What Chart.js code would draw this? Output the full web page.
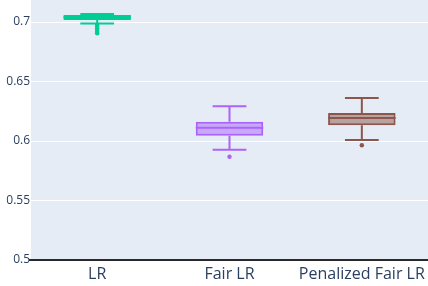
<!DOCTYPE html>
<html>
<head>
<meta charset="utf-8">
<script src="https://cdn.jsdelivr.net/npm/chart.js@4.4.0/dist/chart.umd.min.js"></script>
<style>
  html, body { margin: 0; padding: 0; background: #fff; }
  #wrap { width: 428px; height: 286px; }
</style>
</head>
<body>
<div id="wrap"><canvas id="chart" width="428" height="286"></canvas></div>
<script>
const categories = ['LR', 'Fair LR', 'Penalized Fair LR'];
const whiskerLow = [0.6987, 0.5927, 0.6008];
const q1Values = [0.7017, 0.6045, 0.6132];
const medianValues = [0.7040, 0.6112, 0.6194];
const q3Values = [0.7059, 0.6162, 0.6236];
const whiskerHigh = [0.7067, 0.6292, 0.6362];
const outliers = [
  [0.6977, 0.6962, 0.6948, 0.6933, 0.6918, 0.6906],
  [0.5868],
  [0.5964]
];
const yTicks = [0.5, 0.55, 0.6, 0.65, 0.7];

const LINE_COLORS = ['#00cc96', '#ab63fa', '#8c564b'];
const FILL_COLORS = ['rgba(0, 204, 150, 0.5)', 'rgba(171, 99, 250, 0.5)', 'rgba(140, 86, 75, 0.5)'];

// plot background like plotly
const plotBackground = {
  id: 'plotBackground',
  beforeDraw(chart) {
    const { ctx, chartArea } = chart;
    ctx.save();
    ctx.fillStyle = '#e5ecf6';
    ctx.fillRect(chartArea.left, chartArea.top, chartArea.right - chartArea.left, chartArea.bottom - chartArea.top);
    ctx.restore();
  }
};

// whiskers, caps and median lines drawn through the scales
const boxExtras = {
  id: 'boxExtras',
  afterDatasetsDraw(chart) {
    const { ctx } = chart;
    const x = chart.scales.x;
    const y = chart.scales.y;
    const meta = chart.getDatasetMeta(0);
    ctx.save();
    ctx.lineWidth = 2;
    categories.forEach((cat, i) => {
      const bar = meta.data[i];
      const cx = x.getPixelForValue(i);
      const half = bar.width / 2;
      const capHalf = half / 2;
      ctx.strokeStyle = LINE_COLORS[i];
      ctx.beginPath();
      // median
      const ym = y.getPixelForValue(medianValues[i]);
      ctx.moveTo(cx - half, ym); ctx.lineTo(cx + half, ym);
      // whiskers
      const yq3 = y.getPixelForValue(q3Values[i]);
      const yq1 = y.getPixelForValue(q1Values[i]);
      const yhi = y.getPixelForValue(whiskerHigh[i]);
      const ylo = y.getPixelForValue(whiskerLow[i]);
      ctx.moveTo(cx, yq3); ctx.lineTo(cx, yhi);
      ctx.moveTo(cx, yq1); ctx.lineTo(cx, ylo);
      // caps
      ctx.moveTo(cx - capHalf, yhi); ctx.lineTo(cx + capHalf, yhi);
      ctx.moveTo(cx - capHalf, ylo); ctx.lineTo(cx + capHalf, ylo);
      ctx.stroke();
    });
    // bottom axis line
    ctx.strokeStyle = '#2a2a2a';
    ctx.lineWidth = 2;
    const yb = y.getPixelForValue(0.5);
    ctx.beginPath();
    ctx.moveTo(chart.chartArea.left - 2, yb);
    ctx.lineTo(chart.chartArea.right, yb);
    ctx.stroke();
    ctx.restore();
  }
};

const outlierPoints = [];
const outlierColors = [];
outliers.forEach((list, i) => {
  list.forEach(v => {
    outlierPoints.push({ x: categories[i], y: v });
    outlierColors.push(LINE_COLORS[i]);
  });
});

new Chart(document.getElementById('chart'), {
  type: 'bar',
  data: {
    labels: categories,
    datasets: [
      {
        data: categories.map((c, i) => [q1Values[i], q3Values[i]]),
        backgroundColor: FILL_COLORS,
        borderColor: LINE_COLORS,
        borderWidth: 2,
        borderSkipped: false,
        barPercentage: 0.51,
        categoryPercentage: 1,
        order: 2
      },
      {
        type: 'scatter',
        data: outlierPoints,
        pointRadius: 2.2,
        pointBackgroundColor: outlierColors,
        pointBorderWidth: 0,
        order: 1
      }
    ]
  },
  options: {
    responsive: false,
    animation: false,
    layout: { padding: 0, autoPadding: false },
    plugins: { legend: { display: false }, tooltip: { enabled: false } },
    scales: {
      x: {
        type: 'category',
        offset: true,
        grid: { display: false },
        border: { display: false },
        ticks: {
          color: '#2a3f5f',
          font: { family: '"Open Sans", sans-serif', size: 16 },
          padding: -3,
          maxRotation: 0,
          autoSkip: false
        },
        afterFit(scale) {
          scale.height = 26;
          scale.paddingLeft = 0;
          scale.paddingRight = 0;
        }
      },
      y: {
        min: 0.5,
        max: 0.7185,
        grid: { color: '#ffffff', lineWidth: 1, drawTicks: false },
        border: { display: false },
        afterBuildTicks(scale) { scale.ticks = yTicks.map(v => ({ value: v })); },
        ticks: {
          color: '#2a3f5f',
          font: { family: '"Open Sans", sans-serif', size: 12 },
          padding: 1,
          callback: v => String(v)
        },
        afterFit(scale) {
          scale.width = 31;
          scale.paddingTop = 0;
          scale.paddingBottom = 0;
        }
      }
    }
  },
  plugins: [plotBackground, boxExtras]
});
</script>
</body>
</html>
